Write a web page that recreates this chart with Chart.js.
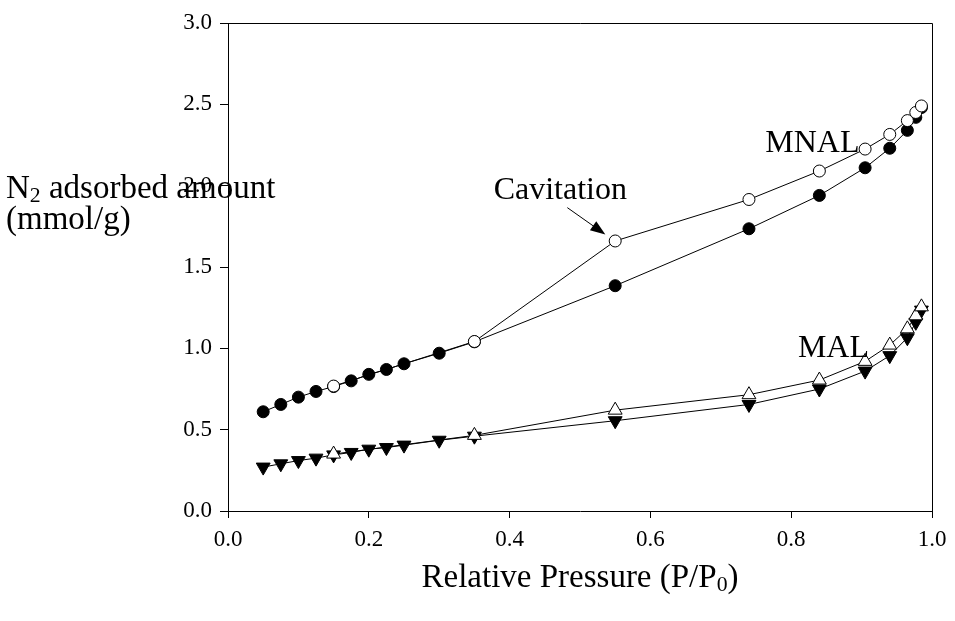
<!DOCTYPE html>
<html>
<head>
<meta charset="utf-8">
<script src="https://cdn.jsdelivr.net/npm/chart.js@4.4.0/dist/chart.umd.min.js"></script>
<style>
  body { margin: 0; background: #fff; }
  #wrap { width: 955px; height: 621px; }
</style>
</head>
<body>
<div id="wrap"><canvas id="graph_iso" width="955" height="621"></canvas></div>
<script>
// relative pressure points (adsorption / desorption branches)
const adsP = [0.05, 0.075, 0.1, 0.125, 0.15, 0.175, 0.2, 0.225, 0.25, 0.3, 0.35, 0.55, 0.74, 0.84, 0.905, 0.94, 0.965, 0.977, 0.985];
const desP = [0.15, 0.35, 0.55, 0.74, 0.84, 0.905, 0.94, 0.965, 0.977, 0.985];

// MNAL (circles)
const mnalAds = [0.61, 0.655, 0.70, 0.735, 0.765, 0.80, 0.84, 0.87, 0.905, 0.97, 1.04, 1.385, 1.735, 1.94, 2.11, 2.23, 2.34, 2.42, 2.48];
const mnalDes = [0.768, 1.042, 1.66, 1.915, 2.09, 2.225, 2.315, 2.40, 2.45, 2.49];

// MAL (triangles)
const malAds = [0.27, 0.29, 0.31, 0.325, 0.345, 0.36, 0.38, 0.39, 0.405, 0.435, 0.46, 0.555, 0.655, 0.75, 0.86, 0.955, 1.065, 1.16, 1.235];
const malDes = [0.35, 0.465, 0.62, 0.715, 0.805, 0.92, 1.02, 1.12, 1.20, 1.255];

const xTicks = [0, 0.2, 0.4, 0.6, 0.8, 1.0];
const yTicks = [0, 0.5, 1.0, 1.5, 2.0, 2.5, 3.0];

const serif = "'Liberation Serif', 'Times New Roman', serif";

function pts(xs, ys) {
	return xs.map((v, i) => ({ x: v, y: ys[i] }));
}

// text with subscripts: parts = [[text, isSub], ...]
function subText(ctx, parts, x, y, size, align) {
	let w = 0;
	parts.forEach(p => {
		ctx.font = (p[1] ? size * 0.66 : size) + 'px ' + serif;
		w += ctx.measureText(p[0]).width;
	});
	let cx = align === 'center' ? x - w / 2 : x;
	parts.forEach(p => {
		ctx.font = (p[1] ? size * 0.66 : size) + 'px ' + serif;
		ctx.fillText(p[0], cx, p[1] ? y + size * 0.22 : y);
		cx += ctx.measureText(p[0]).width;
	});
}

const extras = {
	id: 'extras',
	afterDatasetsDraw(chart) {
		const { ctx, chartArea: a, scales: { x, y } } = chart;
		ctx.save();
		// frame top / right
		ctx.strokeStyle = '#000';
		ctx.lineWidth = 1;
		ctx.beginPath();
		ctx.moveTo(a.left, a.top + 0.5);
		ctx.lineTo(a.right + 0.5, a.top + 0.5);
		ctx.lineTo(a.right + 0.5, a.bottom);
		ctx.stroke();

		ctx.fillStyle = '#000';
		ctx.textBaseline = 'middle';

		// labels
		ctx.font = '32px ' + serif;
		ctx.textAlign = 'center';
		ctx.fillText('MNAL', x.getPixelForValue(0.83), y.getPixelForValue(2.26));
		ctx.fillText('MAL', x.getPixelForValue(0.86), y.getPixelForValue(1.0));
		ctx.fillText('Cavitation', x.getPixelForValue(0.472), y.getPixelForValue(1.97));

		// arrow to cavitation point
		const x1 = x.getPixelForValue(0.482), y1 = y.getPixelForValue(1.865);
		const x2 = x.getPixelForValue(0.536), y2 = y.getPixelForValue(1.70);
		const ang = Math.atan2(y2 - y1, x2 - x1);
		ctx.beginPath();
		ctx.moveTo(x1, y1);
		ctx.lineTo(x2 - 10 * Math.cos(ang), y2 - 10 * Math.sin(ang));
		ctx.stroke();
		ctx.beginPath();
		ctx.moveTo(x2, y2);
		ctx.lineTo(x2 - 15 * Math.cos(ang) + 5.5 * Math.sin(ang), y2 - 15 * Math.sin(ang) - 5.5 * Math.cos(ang));
		ctx.lineTo(x2 - 15 * Math.cos(ang) - 5.5 * Math.sin(ang), y2 - 15 * Math.sin(ang) + 5.5 * Math.cos(ang));
		ctx.closePath();
		ctx.fill();

		// axis titles
		ctx.textAlign = 'left';
		subText(ctx, [['N', false], ['2', true], [' adsorbed amount', false]], 6, 189, 33, 'left');
		subText(ctx, [['(mmol/g)', false]], 6, 220, 33, 'left');
		subText(ctx, [['Relative Pressure (P/P', false], ['0', true], [')', false]], (a.left + a.right) / 2, 578, 33, 'center');
		ctx.restore();
	}
};

const ctx = document.getElementById('graph_iso');
const chart = new Chart(ctx, {
	type: 'scatter',
	data: {
		datasets: [
			{ // MNAL desorption - open circles
				label: 'MNAL des',
				data: pts(desP, mnalDes),
				showLine: true,
				borderColor: '#000',
				borderWidth: 1,
				pointStyle: 'circle',
				pointRadius: 6,
				pointBackgroundColor: '#fff',
				pointBorderColor: '#000',
				pointBorderWidth: 1,
				order: 1
			},
			{ // MNAL adsorption - filled circles
				label: 'MNAL ads',
				data: pts(adsP, mnalAds),
				showLine: true,
				borderColor: '#000',
				borderWidth: 1,
				pointStyle: 'circle',
				pointRadius: 6,
				pointBackgroundColor: '#000',
				pointBorderColor: '#000',
				order: 2
			},
			{ // MAL desorption - open triangles
				label: 'MAL des',
				data: pts(desP, malDes),
				showLine: true,
				borderColor: '#000',
				borderWidth: 1,
				pointStyle: 'triangle',
				pointRadius: 8,
				pointBackgroundColor: '#fff',
				pointBorderColor: '#000',
				pointBorderWidth: 1,
				order: 1
			},
			{ // MAL adsorption - filled down triangles
				label: 'MAL ads',
				data: pts(adsP, malAds),
				showLine: true,
				borderColor: '#000',
				borderWidth: 1,
				pointStyle: 'triangle',
				rotation: 180,
				pointRadius: 8,
				pointBackgroundColor: '#000',
				pointBorderColor: '#000',
				order: 2
			}
		]
	},
	options: {
		responsive: false,
		animation: false,
		layout: { padding: { top: 23, right: 23, left: 0, bottom: 0 } },
		plugins: { legend: { display: false }, tooltip: { enabled: false } },
		elements: { line: { tension: 0 } },
		scales: {
			x: {
				type: 'linear',
				min: 0,
				max: 1,
				afterBuildTicks: s => { s.ticks = xTicks.map(v => ({ value: v })); },
				afterFit: s => { s.height = 110; },
				border: { display: true, color: '#000', width: 1 },
				grid: { drawOnChartArea: false, drawTicks: true, tickLength: 7, tickColor: '#000' },
				ticks: {
					color: '#000',
					padding: 8,
					maxRotation: 0,
					font: { family: serif, size: 23 },
					callback: v => v.toFixed(1)
				}
			},
			y: {
				type: 'linear',
				min: 0,
				max: 3,
				afterBuildTicks: s => { s.ticks = yTicks.map(v => ({ value: v })); },
				afterFit: s => { s.width = 228; },
				border: { display: true, color: '#000', width: 1 },
				grid: { drawOnChartArea: false, drawTicks: true, tickLength: 8, tickColor: '#000' },
				ticks: {
					color: '#000',
					padding: 8,
					font: { family: serif, size: 23 },
					callback: v => v.toFixed(1)
				}
			}
		}
	},
	plugins: [extras]
});
</script>
</body>
</html>
